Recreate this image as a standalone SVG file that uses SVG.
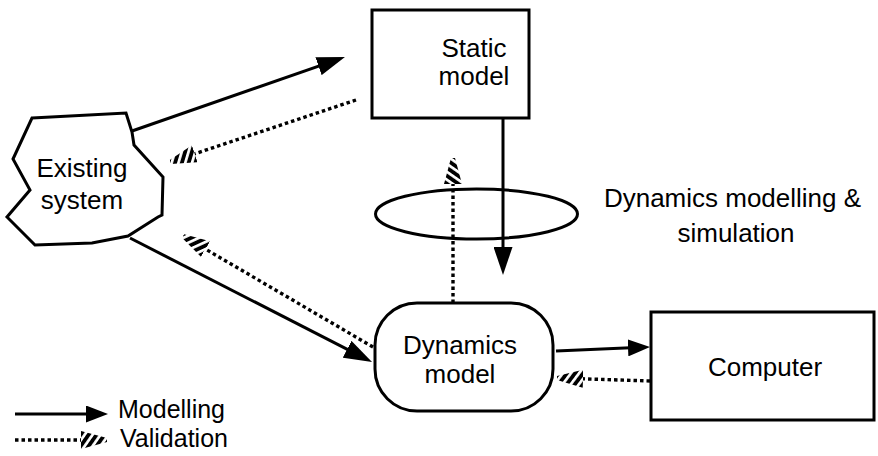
<svg xmlns="http://www.w3.org/2000/svg" width="878" height="456" viewBox="0 0 878 456">
  <style>
    .box { fill: #fff; stroke: #000; stroke-width: 3; }
    .lbl { font-family: "Liberation Sans", Arial, Helvetica, sans-serif; font-size: 26px; fill: #000; text-anchor: middle; }
    .leg { font-family: "Liberation Sans", Arial, Helvetica, sans-serif; font-size: 25px; fill: #000; }
    .model { fill: none; stroke: #000; stroke-width: 3; }
    .valid { fill: none; stroke: #000; stroke-width: 3.4; stroke-dasharray: 3.5 3; }
  </style>
  <defs>
    <!-- hatch used to fill the validation arrowheads -->
    <pattern id="hatch" patternUnits="userSpaceOnUse" width="6.5" height="6.5" patternTransform="rotate(35)">
      <rect x="0" y="0" width="3.8" height="6.5" fill="#000"/>
    </pattern>
    <!-- solid modelling arrowhead; tip sits 8px beyond the path end -->
    <marker id="head" markerUnits="userSpaceOnUse" viewBox="0 0 28 19" refX="20" refY="9.5" markerWidth="28" markerHeight="19" orient="auto">
      <path d="M0,0 L28,9.5 L0,19 Z" fill="#000"/>
    </marker>
    <marker id="head-s" markerUnits="userSpaceOnUse" viewBox="0 0 22 17" refX="14" refY="8.5" markerWidth="22" markerHeight="17" orient="auto">
      <path d="M0,0 L22,8.5 L0,17 Z" fill="#000"/>
    </marker>
    <!-- hatched validation arrowhead; base sits on the path end -->
    <marker id="vhead" markerUnits="userSpaceOnUse" viewBox="0 0 26 18" refX="0" refY="9" markerWidth="26" markerHeight="18" orient="auto">
      <path d="M0,0 L26,7 L26,11 L0,18 Z" fill="url(#hatch)"/>
    </marker>
  </defs>

  <!-- connectors -->
  <g id="connectors">
    <ellipse cx="476.5" cy="214" rx="101" ry="25" class="model"/>
    <!-- modelling -->
    <path class="model" d="M132,131 L337.4,59.6" marker-end="url(#head)"/>
    <path class="model" d="M130,238 L364.9,358.4" marker-end="url(#head)"/>
    <path class="model" d="M503,118 L503,267" marker-end="url(#head)"/>
    <path class="model" d="M556,351 L642,347.3" marker-end="url(#head-s)"/>
    <!-- validation -->
    <path class="valid" d="M356,100 L194.7,153.8" marker-end="url(#vhead)"/>
    <path class="valid" d="M373,347 L205.5,249.1" marker-end="url(#vhead)"/>
    <path class="valid" d="M453,303 L453,184" marker-end="url(#vhead)"/>
    <path class="valid" d="M650,381 L583,378.8" marker-end="url(#vhead)"/>
  </g>

  <g id="existing-system">
    <polygon class="box" points="32,118 126,113 132,132 134,145 163,177 162,215 158,217 128,236 92,243 35,245 7,217 30,190 13,159"/>
    <text class="lbl" x="82" y="177">Existing</text>
    <text class="lbl" x="82" y="209">system</text>
  </g>

  <g id="static-model">
    <rect class="box" x="372" y="10" width="157" height="108"/>
    <text class="lbl" x="474" y="57">Static</text>
    <text class="lbl" x="474" y="85">model</text>
  </g>

  <g id="dynamics-model">
    <rect class="box" x="375" y="303" width="178" height="108" rx="42" ry="42"/>
    <text class="lbl" x="460" y="354">Dynamics</text>
    <text class="lbl" x="460" y="383">model</text>
  </g>

  <g id="computer">
    <rect class="box" x="651" y="312" width="223" height="108"/>
    <text class="lbl" x="765" y="376">Computer</text>
  </g>

  <g id="dynamics-label">
    <text class="lbl" x="732.5" y="207">Dynamics modelling &amp;</text>
    <text class="lbl" x="736" y="242">simulation</text>
  </g>

  <g id="legend">
    <path class="model" d="M15,414 L100,414" marker-end="url(#head-s)"/>
    <text class="leg" x="118" y="418">Modelling</text>
    <path class="valid" d="M15,440 L81,440" marker-end="url(#vhead)"/>
    <text class="leg" x="120" y="447">Validation</text>
  </g>
</svg>
